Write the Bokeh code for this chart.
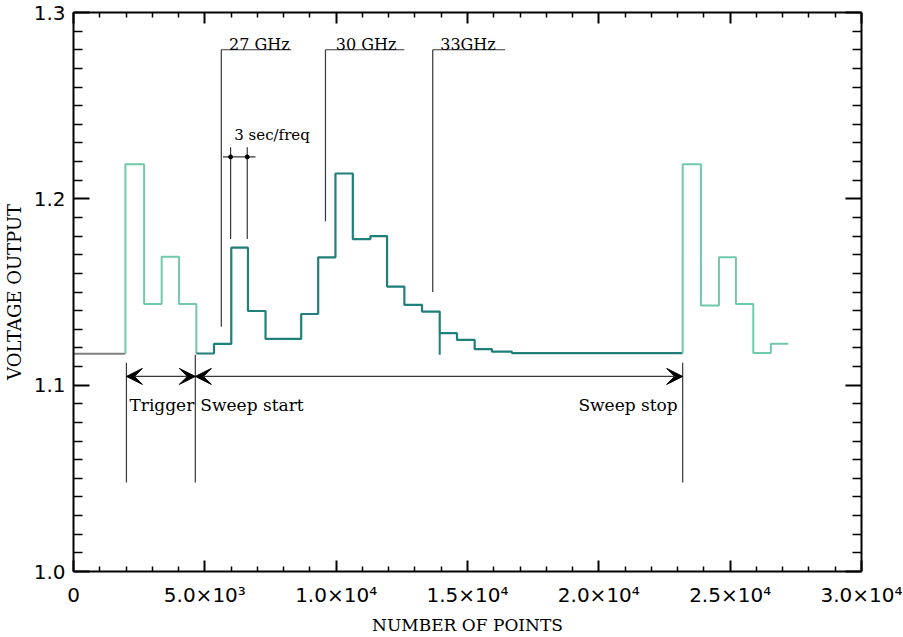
from bokeh.plotting import figure
from bokeh.models import Range1d, LinearAxis, FixedTicker, Arrow, VeeHead
from bokeh.core.properties import value
from bokeh.embed import file_html
from bokeh.resources import INLINE

# ---------------- data ----------------
x_tick_values = [0, 5000, 10000, 15000, 20000, 25000, 30000]
x_tick_labels = ["0", "5.0×10³", "1.0×10⁴", "1.5×10⁴", "2.0×10⁴", "2.5×10⁴", "3.0×10⁴"]
x_minor_values = [1000, 2000, 3000, 4000, 6000, 7000, 8000, 9000, 11000, 12000, 13000, 14000,
                  16000, 17000, 18000, 19000, 21000, 22000, 23000, 24000, 26000, 27000, 28000, 29000]
y_tick_values = [1.0, 1.1, 1.2, 1.3]
y_tick_labels = ["1.0", "1.1", "1.2", "1.3"]
y_minor_values = [1.01, 1.02, 1.03, 1.04, 1.05, 1.06, 1.07, 1.08, 1.09,
                  1.11, 1.12, 1.13, 1.14, 1.15, 1.16, 1.17, 1.18, 1.19,
                  1.21, 1.22, 1.23, 1.24, 1.25, 1.26, 1.27, 1.28, 1.29]

# idle baseline before the trigger
baseline_x = [0, 1977]
baseline_y = [1.1168, 1.1168]

# trigger pulse (start)
trigger_edges = [1977, 2688, 3357, 4019, 4676]
trigger_levels = [1.2186, 1.1436, 1.1689, 1.1436]
trigger_end_level = 1.1173

# frequency sweep
sweep_edges = [4676, 5349, 6007, 6642, 7311, 8669, 9315, 9973, 10634, 11303, 11938,
               12596, 13269, 13942, 14600, 15273, 15930, 16690, 23192]
sweep_levels = [1.1170, 1.1222, 1.1738, 1.1398, 1.1248, 1.1382, 1.1686, 1.2136, 1.1784,
                1.1800, 1.1529, 1.1431, 1.1395, 1.1279, 1.1243, 1.1193, 1.1180, 1.1172]
spike_x = [13942, 13942]
spike_y = [1.1279, 1.1163]

# trigger pulse (after sweep stop)
retrig_edges = [23192, 23888, 24573, 25219, 25880, 26549, 27211]
retrig_levels = [1.2186, 1.1427, 1.1686, 1.1436, 1.1172, 1.1222]
retrig_start_level = 1.1172

# annotations
freq_labels = ["27 GHz", "30 GHz", "33GHz"]
freq_line_x = [5627, 9593, 13676]
freq_line_x_end = [8288, 12596, 16436]
freq_line_bottom = [1.1313, 1.188, 1.150]
freq_line_top = 1.28
freq_text_x = [7072, 11140, 15018]
freq_text_y = 1.2829

def step_path(edges, levels, start_y=None, end_y=None):
    xs, ys = [], []
    if start_y is not None:
        xs.append(edges[0]); ys.append(start_y)
    for i, lv in enumerate(levels):
        xs += [edges[i], edges[i + 1]]
        ys += [lv, lv]
    if end_y is not None:
        xs.append(edges[-1]); ys.append(end_y)
    return xs, ys

LIGHT = "#72c9a9"
DARK = "#1f7f7a"
GRAY = "#808080"
ANN = "#383838"

p = figure(width=903, height=637, x_range=Range1d(0, 30000), y_range=Range1d(1.0, 1.3),
           output_backend="svg", toolbar_location=None,
           min_border_left=71, min_border_right=42, min_border_top=12, min_border_bottom=65)
p.xgrid.visible = False
p.ygrid.visible = False
p.outline_line_color = None
p.background_fill_color = "white"
p.border_fill_color = "white"

def style_axis(ax, ticks, minors, labels, tick_in, minor_in, show_labels=True):
    ax.ticker = FixedTicker(ticks=ticks, minor_ticks=minors)
    ax.axis_line_width = 2
    ax.axis_line_color = "black"
    ax.major_tick_line_color = "black"
    ax.minor_tick_line_color = "black"
    ax.major_tick_line_width = 2
    ax.minor_tick_line_width = 1.5
    ax.major_tick_in = tick_in
    ax.major_tick_out = 0
    ax.minor_tick_in = minor_in
    ax.minor_tick_out = 0
    if show_labels:
        ax.major_label_overrides = dict(zip(ticks, labels))
        ax.major_label_text_font = "DejaVu Sans"
        ax.major_label_text_font_size = "20px"
        ax.major_label_text_color = "black"
    else:
        ax.major_label_overrides = {t: "" for t in ticks}
        ax.major_label_text_font_size = "1px"
        ax.major_label_standoff = 0

xa = p.xaxis[0]
style_axis(xa, x_tick_values, x_minor_values, x_tick_labels, 11, 5)
xa.major_label_standoff = 11
xa.axis_label = "NUMBER OF POINTS"
xa.axis_label_text_font = "DejaVu Serif"
xa.axis_label_text_font_size = "17px"
xa.axis_label_text_font_style = "normal"
xa.axis_label_text_color = "black"
xa.axis_label_standoff = 5

ya = p.yaxis[0]
style_axis(ya, y_tick_values, y_minor_values, y_tick_labels, 16, 9)
ya.major_label_standoff = 8
ya.axis_label = "VOLTAGE OUTPUT"
ya.axis_label_text_font = "DejaVu Serif"
ya.axis_label_text_font_size = "18px"
ya.axis_label_text_font_style = "normal"
ya.axis_label_text_color = "black"
ya.axis_label_standoff = 6

top = LinearAxis()
style_axis(top, x_tick_values, x_minor_values, x_tick_labels, 11, 5, show_labels=False)
p.add_layout(top, "above")
right = LinearAxis()
style_axis(right, y_tick_values, y_minor_values, y_tick_labels, 16, 9, show_labels=False)
p.add_layout(right, "right")

# ---------------- signal ----------------
p.line(baseline_x, baseline_y, line_color=GRAY, line_width=2)
tx, ty = step_path(trigger_edges, trigger_levels, start_y=baseline_y[-1], end_y=trigger_end_level)
p.line(tx, ty, line_color=LIGHT, line_width=2)
sx, sy = step_path(sweep_edges, sweep_levels)
p.line(sx, sy, line_color=DARK, line_width=2.2)
p.line(spike_x, spike_y, line_color=DARK, line_width=2)
rx, ry = step_path(retrig_edges, retrig_levels, start_y=retrig_start_level)
p.line(rx, ry, line_color=LIGHT, line_width=2)

# ---------------- annotations ----------------
# frequency markers
p.segment(x0=freq_line_x, y0=freq_line_bottom, x1=freq_line_x, y1=[freq_line_top] * 3,
          line_color=ANN, line_width=1.2)
p.segment(x0=freq_line_x, y0=[freq_line_top] * 3, x1=freq_line_x_end, y1=[freq_line_top] * 3,
          line_color=ANN, line_width=1.2)
p.text(x=freq_text_x, y=[freq_text_y] * 3, text=freq_labels, text_font=value("DejaVu Serif"),
       text_font_size=value("16px"), text_align="center", text_baseline="alphabetic", text_color="black")

# 3 sec/freq marker
p.segment(x0=[5981, 6615], y0=[1.1784, 1.1784], x1=[5981, 6615], y1=[1.2277, 1.2277],
          line_color=ANN, line_width=1.2)
p.segment(x0=[5692], y0=[1.2225], x1=[6931], y1=[1.2225], line_color=ANN, line_width=1.2)
p.scatter([5981, 6615], [1.2225, 1.2225], size=4, color="black")
p.text(x=[6121], y=[1.2341], text=["3 sec/freq"], text_font=value("DejaVu Serif"),
       text_font_size=value("15px"), text_align="left", text_baseline="alphabetic", text_color="black")

# trigger / sweep markers
p.segment(x0=[2015, 4638, 23192], y0=[1.112, 1.1163, 1.112], x1=[2015, 4638, 23192],
          y1=[1.0477, 1.0477, 1.0477], line_color=ANN, line_width=1.2)
for xs0, xs1 in [(2015, 4638), (4638, 23192)]:
    p.add_layout(Arrow(start=VeeHead(size=16, fill_color="black", line_color="black"),
                       end=VeeHead(size=16, fill_color="black", line_color="black"),
                       x_start=xs0, y_start=1.1047, x_end=xs1, y_end=1.1047,
                       line_color=ANN, line_width=1.2))
p.text(x=[2130, 4829], y=[1.0895, 1.0895], text=["Trigger", "Sweep start"],
       text_font=value("DejaVu Serif"), text_font_size=value("17px"),
       text_align="left", text_baseline="alphabetic", text_color="black")
p.text(x=[23002], y=[1.0895], text=["Sweep stop"],
       text_font=value("DejaVu Serif"), text_font_size=value("17px"),
       text_align="right", text_baseline="alphabetic", text_color="black")

open("out.html", "w").write(file_html(p, INLINE))
